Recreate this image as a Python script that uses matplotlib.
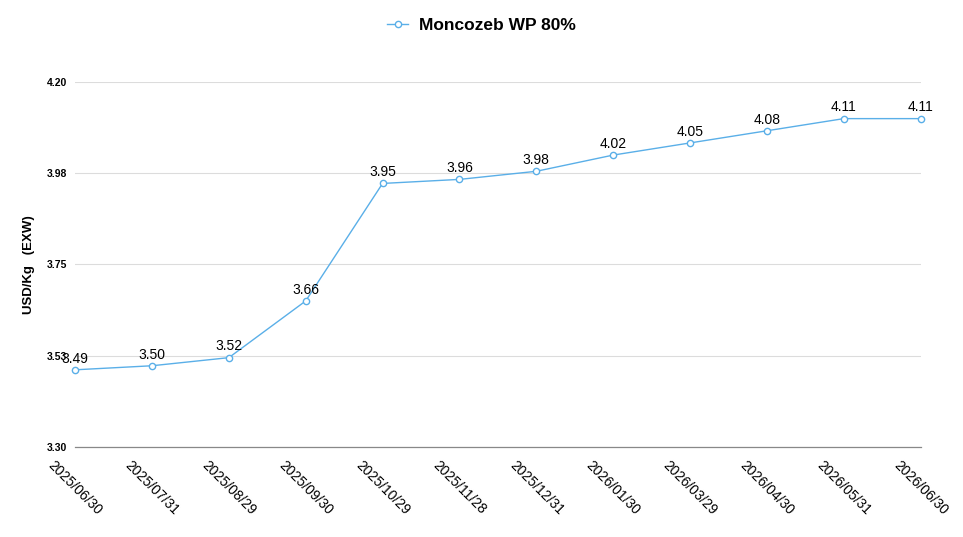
import matplotlib
matplotlib.use('Agg')
import matplotlib.pyplot as plt
import numpy as np

plt.rcParams['font.family'] = ['Liberation Sans', 'DejaVu Sans']

# data
dates = ['2025/06/30', '2025/07/31', '2025/08/29', '2025/09/30', '2025/10/29', '2025/11/28',
         '2025/12/31', '2026/01/30', '2026/03/29', '2026/04/30', '2026/05/31', '2026/06/30']
prices = [3.49, 3.50, 3.52, 3.66, 3.95, 3.96, 3.98, 4.02, 4.05, 4.08, 4.11, 4.11]
y_ticks = [3.30, 3.525, 3.75, 3.975, 4.20]
y_tick_labels = ['3.30', '3.53', '3.75', '3.98', '4.20']
series_name = 'Moncozeb WP 80%'

line_color = '#5aafe8'

fig = plt.figure(figsize=(9.63, 5.37), dpi=100)
ax = fig.add_axes([0.078, 0.168, 0.878, 0.679])

x = np.arange(len(dates))
ax.plot(x, prices, '-o', color=line_color, lw=1, ms=4.5, mfc='white', mec=line_color,
        mew=1, label=series_name, zorder=3, clip_on=False)

# value labels above each point
for xi, yi in zip(x, prices):
    ax.annotate('%.2f' % yi, (xi, yi), xytext=(0, 3), textcoords='offset points',
                ha='center', va='bottom', fontsize=10, color='black')

ax.set_xlim(0, len(dates) - 1)
ax.set_ylim(3.30, 4.20)
ax.set_yticks(y_ticks)
ax.set_yticklabels(y_tick_labels, fontsize=7.5, fontweight='bold')
ax.set_xticks(x)
ax.set_xticklabels(dates, rotation=-45, ha='center', va='top', fontsize=10)
ax.tick_params(axis='both', length=0)
ax.tick_params(axis='y', pad=6)
ax.tick_params(axis='x', pad=8)

ax.grid(axis='y', color='#dcdcdc', lw=0.8)
ax.set_axisbelow(True)
for side in ['top', 'right', 'left']:
    ax.spines[side].set_visible(False)
ax.spines['bottom'].set_color('#888888')
ax.spines['bottom'].set_linewidth(0.9)

ax.set_ylabel('USD/Kg   (EXW)', fontsize=9.5, fontweight='bold', labelpad=8)

leg = fig.legend(loc='upper center', bbox_to_anchor=(0.5, 0.995), frameon=False,
                 prop={'weight': 'bold', 'size': 12.5}, handlelength=1.2, handletextpad=0.6)

fig.savefig('out.png', dpi=100, facecolor='white')
